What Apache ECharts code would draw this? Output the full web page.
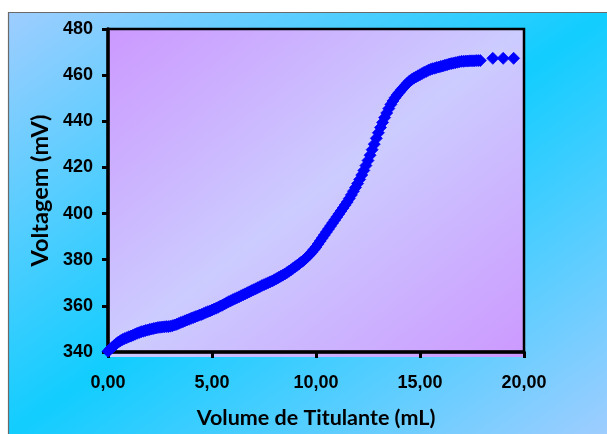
<!DOCTYPE html>
<html>
<head>
<meta charset="utf-8">
<script src="https://cdn.jsdelivr.net/npm/echarts@6/dist/echarts.min.js"></script>
<style>
html,body{margin:0;padding:0;background:#fff;}
#chart{width:607px;height:434px;}
</style>
</head>
<body>
<div id="chart"></div>
<script>
// Data
var volume = [
 0.0,0.1,0.2,0.3,0.4,0.5,0.6,0.7,0.8,0.9,
 1.0,1.1,1.2,1.3,1.4,1.5,1.6,1.7,1.8,1.9,
 2.0,2.1,2.2,2.3,2.4,2.5,2.6,2.7,2.8,2.9,
 3.0,3.1,3.2,3.3,3.4,3.5,3.6,3.7,3.8,3.9,
 4.0,4.1,4.2,4.3,4.4,4.5,4.6,4.7,4.8,4.9,
 5.0,5.1,5.2,5.3,5.4,5.5,5.6,5.7,5.8,5.9,
 6.0,6.1,6.2,6.3,6.4,6.5,6.6,6.7,6.8,6.9,
 7.0,7.1,7.2,7.3,7.4,7.5,7.6,7.7,7.8,7.9,
 8.0,8.1,8.2,8.3,8.4,8.5,8.6,8.7,8.8,8.9,
 9.0,9.1,9.2,9.3,9.4,9.5,9.6,9.7,9.8,9.9,
 10.0,10.1,10.2,10.3,10.4,10.5,10.6,10.7,10.8,10.9,
 11.0,11.1,11.2,11.3,11.4,11.5,11.6,11.7,11.8,11.9,
 12.0,12.1,12.2,12.3,12.4,12.5,12.6,12.7,12.8,12.9,
 13.0,13.1,13.2,13.3,13.4,13.5,13.6,13.7,13.8,13.9,
 14.0,14.1,14.2,14.3,14.4,14.5,14.6,14.7,14.8,14.9,
 15.0,15.1,15.2,15.3,15.4,15.5,15.6,15.7,15.8,15.9,
 16.0,16.1,16.2,16.3,16.4,16.5,16.6,16.7,16.8,16.9,
 17.0,17.1,17.2,17.3,17.4,17.5,17.6,17.7,17.8,17.9,
 18.5,19.0,19.5
];
var voltage = [
 340.3,341.2,342.0,342.8,343.6,344.3,344.9,345.4,345.8,346.2,
 346.6,346.9,347.3,347.7,348.1,348.4,348.8,349.0,349.3,349.5,
 349.8,350.0,350.2,350.4,350.6,350.7,350.8,350.9,351.0,351.0,
 351.2,351.4,351.7,352.0,352.4,352.8,353.1,353.5,353.9,354.2,
 354.6,354.9,355.3,355.6,356.0,356.3,356.7,357.1,357.5,357.8,
 358.2,358.6,359.0,359.4,359.9,360.3,360.8,361.3,361.8,362.2,
 362.7,363.1,363.5,363.9,364.4,364.8,365.2,365.7,366.1,366.6,
 367.0,367.4,367.9,368.3,368.8,369.2,369.6,370.0,370.4,370.8,
 371.3,371.8,372.3,372.8,373.3,373.8,374.4,375.0,375.6,376.3,
 377.0,377.6,378.3,379.0,379.7,380.5,381.4,382.3,383.3,384.4,
 385.5,386.8,388.1,389.4,390.7,392.0,393.3,394.6,395.9,397.2,
 398.5,399.8,401.1,402.4,403.7,405.0,406.5,408.1,409.7,411.3,
 413.0,414.8,416.7,418.7,420.8,423.0,425.3,427.7,430.1,432.6,
 435.0,437.3,439.5,441.6,443.6,445.5,447.3,448.8,450.2,451.4,
 452.5,453.6,454.6,455.6,456.6,457.5,458.1,458.7,459.2,459.7,
 460.2,460.7,461.2,461.6,462.1,462.5,462.8,463.0,463.3,463.5,
 463.8,464.0,464.3,464.5,464.8,465.0,465.2,465.4,465.6,465.8,
 466.0,466.0,466.1,466.1,466.2,466.2,466.2,466.3,466.3,466.3,
 467.3,467.3,467.3
];
var xTicks = [0, 5, 10, 15, 20];
var yTicks = [340, 360, 380, 400, 420, 440, 460, 480];
var xTitle = 'Volume de Titulante (mL)';
var yTitle = 'Voltagem (mV)';

var points = volume.map(function (v, i) { return [v, voltage[i]]; });

var G = {left: 108, top: 29, right: 524, bottom: 357};

var chart = echarts.init(document.getElementById('chart'), null, {renderer: 'canvas'});
chart.setOption({
  backgroundColor: '#ffffff',
  animation: false,
  graphic: [
    {
      type: 'rect', z: -5, silent: true,
      x: 8, y: 12, scaleX: 6.0, scaleY: 4.23,
      shape: {x: 0, y: 0, width: 100, height: 100},
      style: {
        fill: new echarts.graphic.LinearGradient(0, 0, 1, 1, [
          {offset: 0, color: '#9fcdff'},
          {offset: 0.5, color: '#12cdff'},
          {offset: 1, color: '#9fcdff'}
        ])
      }
    },
    {
      type: 'polyline', z: -4, silent: true,
      shape: {points: [[8.5, 434], [8.5, 12.5], [607, 12.5]]},
      style: {stroke: '#6a6a6a', lineWidth: 1.2, fill: null}
    },
    {
      type: 'rect', z: -3, silent: true,
      x: G.left, y: G.top,
      scaleX: (G.right - G.left) / 100, scaleY: (G.bottom - G.top) / 100,
      shape: {x: 0, y: 0, width: 100, height: 100},
      style: {
        fill: new echarts.graphic.LinearGradient(0, 0, 1, 1, [
          {offset: 0, color: '#cc99ff'},
          {offset: 0.5, color: '#ccccff'},
          {offset: 1, color: '#cc99ff'}
        ])
      }
    }
  ],
  grid: {
    left: G.left, top: G.top, right: 607 - G.right, bottom: 434 - G.bottom,
    show: true, borderColor: '#000', borderWidth: 2.5, backgroundColor: 'transparent',
    containLabel: false
  },
  xAxis: {
    type: 'value', min: xTicks[0], max: xTicks[xTicks.length - 1], interval: 5,
    name: xTitle, nameLocation: 'middle', nameGap: 55,
    nameTextStyle: {fontFamily: 'Lato', fontWeight: 'bold', fontSize: 21.5, color: '#000'},
    axisLine: {show: true, onZero: false, lineStyle: {color: '#000', width: 3.5}},
    axisTick: {show: true, inside: false, length: 6, lineStyle: {color: '#000', width: 3}},
    axisLabel: {
      margin: 22, color: '#000', fontFamily: 'Liberation Sans', fontWeight: 'bold', fontSize: 18,
      formatter: function (v) { return v.toFixed(2).replace('.', ','); }
    },
    splitLine: {show: false}
  },
  yAxis: {
    type: 'value', min: yTicks[0], max: yTicks[yTicks.length - 1], interval: 20,
    name: yTitle, nameLocation: 'middle', nameGap: 56, nameRotate: 90,
    nameTextStyle: {fontFamily: 'Lato', fontWeight: 'bold', fontSize: 23.5, color: '#000'},
    axisLine: {show: true, onZero: false, lineStyle: {color: '#000', width: 3.5}},
    axisTick: {show: true, inside: false, length: 6, lineStyle: {color: '#000', width: 3}},
    axisLabel: {margin: 15, color: '#000', fontFamily: 'Liberation Sans', fontWeight: 'bold', fontSize: 18},
    splitLine: {show: false}
  },
  series: [{
    type: 'scatter',
    data: points,
    symbol: 'diamond',
    symbolSize: [12, 12],
    clip: false,
    itemStyle: {color: '#0000ff', opacity: 1, borderColor: '#0000ff', borderWidth: 0.8},
    z: 5
  }]
});
</script>
</body>
</html>
